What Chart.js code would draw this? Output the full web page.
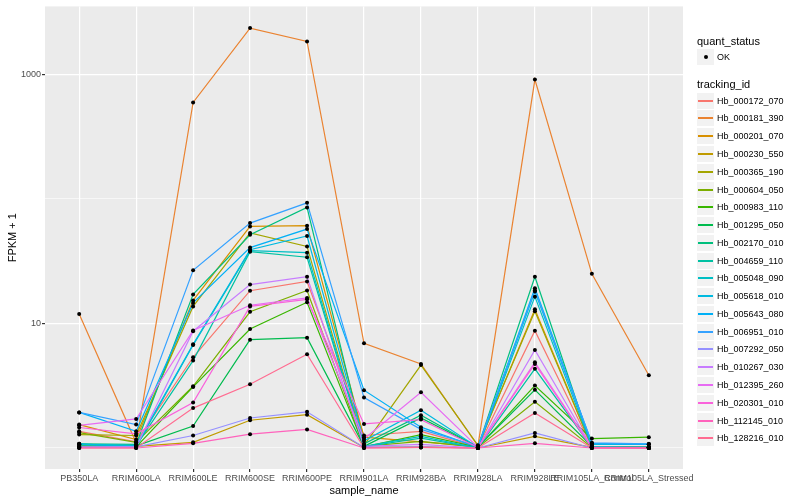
<!DOCTYPE html>
<html>
<head>
<meta charset="utf-8">
<script src="https://cdn.jsdelivr.net/npm/chart.js@4.4.1/dist/chart.umd.min.js"></script>
<style>
  body { margin: 0; background: #fff; font-family: "Liberation Sans", Arial, sans-serif; }
  #wrap { position: relative; width: 800px; height: 500px; }
  #legend { position: absolute; left: 0; top: 0; width: 800px; height: 500px; pointer-events: none; }
  .lt { position: absolute; font-size: 11px; line-height: 14px; color: #000; white-space: nowrap; }
  .li { position: absolute; font-size: 9px; line-height: 12px; color: #000; white-space: nowrap; }
  .key { position: absolute; width: 17px; height: 16px; background: #F2F2F2; }
  .key i { position: absolute; left: 1px; right: 1px; top: 7px; height: 2px; }
  .key b { position: absolute; left: 7px; top: 6px; width: 4px; height: 4px; border-radius: 2px; background: #000; }
</style>
</head>
<body>
<div id="wrap">
  <canvas id="chart" width="800" height="500"></canvas>
  <div id="legend"></div>
</div>
<script>
const samples = ['PB350LA', 'RRIM600LA', 'RRIM600LE', 'RRIM600SE', 'RRIM600PE', 'RRIM901LA',
  'RRIM928BA', 'RRIM928LA', 'RRIM928LE', 'RRIM105LA_Control', 'RRIM105LA_Stressed'];

const trackingIds = ['Hb_000172_070', 'Hb_000181_390', 'Hb_000201_070', 'Hb_000230_550', 'Hb_000365_190',
  'Hb_000604_050', 'Hb_000983_110', 'Hb_001295_050', 'Hb_002170_010', 'Hb_004659_110',
  'Hb_005048_090', 'Hb_005618_010', 'Hb_005643_080', 'Hb_006951_010', 'Hb_007292_050',
  'Hb_010267_030', 'Hb_012395_260', 'Hb_020301_010', 'Hb_112145_010', 'Hb_128216_010'];

const trackColors = ['#F8766D', '#EA8331', '#D89000', '#C09B00', '#A3A500', '#7CAE00', '#39B600',
  '#00BB4E', '#00BF7D', '#00C1A3', '#00BFC4', '#00BAE0', '#00B0F6', '#35A2FF', '#9590FF',
  '#C77CFF', '#E76BF3', '#FA62DB', '#FF62BC', '#FF6C91'];

// FPKM + 1, one array per tracking_id, in sample order
const hb_000172_070 = [1.36, 1.12, 5.35, 18.3, 21.7, 1.26, 1.36, 1.01, 8.74, 1.02, 1.01];
const hb_000181_390 = [11.9, 1.10, 594, 2350, 1837, 6.92, 4.73, 1.04, 907, 25.0, 3.84];
const hb_000201_070 = [1.54, 1.17, 15.3, 60.1, 60.9, 1.22, 1.12, 1.03, 13.0, 1.03, 1.01];
const hb_000230_550 = [1.02, 1.03, 1.11, 1.67, 1.85, 1.01, 1.02, 1.00, 1.24, 1.01, 1.00];
const hb_000365_190 = [1.28, 1.26, 13.7, 53.2, 41.5, 1.05, 4.63, 1.05, 12.5, 1.02, 1.01];
const hb_000604_050 = [1.33, 1.11, 3.13, 12.4, 18.4, 1.03, 1.13, 1.01, 2.35, 1.01, 1.01];
const hb_000983_110 = [1.03, 1.02, 3.09, 9.02, 14.8, 1.02, 1.28, 1.01, 3.17, 1.19, 1.22];
const hb_001295_050 = [1.04, 1.04, 1.50, 7.41, 7.68, 1.03, 1.74, 1.02, 2.93, 1.03, 1.02];
const hb_002170_010 = [1.08, 1.07, 17.1, 51.5, 85.3, 1.08, 1.83, 1.02, 23.7, 1.02, 1.02];
const hb_004659_110 = [1.07, 1.04, 5.03, 37.7, 34.0, 1.02, 1.20, 1.00, 4.32, 1.01, 1.01];
const hb_005048_090 = [1.08, 1.02, 6.70, 38.4, 37.0, 1.03, 1.24, 1.00, 16.4, 1.02, 1.00];
const hb_005618_010 = [1.07, 1.05, 6.79, 39.1, 50.3, 1.14, 2.01, 1.01, 18.0, 1.07, 1.07];
const hb_005643_080 = [1.93, 1.36, 14.6, 40.6, 57.2, 2.91, 1.47, 1.01, 19.2, 1.09, 1.07];
const hb_006951_010 = [1.93, 1.54, 26.7, 63.9, 92.9, 2.54, 1.41, 1.03, 18.5, 1.10, 1.08];
const hb_007292_050 = [1.01, 1.02, 1.26, 1.74, 1.95, 1.01, 1.02, 1.00, 1.32, 1.00, 1.00];
const hb_010267_030 = [1.02, 1.02, 8.66, 20.5, 23.7, 1.03, 1.07, 1.00, 6.12, 1.01, 1.01];
const hb_012395_260 = [1.52, 1.71, 8.79, 14.0, 16.0, 1.18, 2.80, 1.01, 4.88, 1.01, 1.00];
const hb_020301_010 = [1.46, 1.30, 2.32, 13.7, 15.6, 1.56, 1.69, 1.01, 4.73, 1.00, 1.00];
const hb_112145_010 = [1.00, 1.00, 1.09, 1.29, 1.41, 1.00, 1.01, 1.00, 1.09, 1.00, 1.00];
const hb_128216_010 = [1.00, 1.00, 2.09, 3.25, 5.65, 1.00, 1.01, 1.00, 1.91, 1.00, 1.00];

const seriesValues = [hb_000172_070, hb_000181_390, hb_000201_070, hb_000230_550, hb_000365_190,
  hb_000604_050, hb_000983_110, hb_001295_050, hb_002170_010, hb_004659_110,
  hb_005048_090, hb_005618_010, hb_005643_080, hb_006951_010, hb_007292_050,
  hb_010267_030, hb_012395_260, hb_020301_010, hb_112145_010, hb_128216_010];

const yTickLabels = [10, 1000];
const yMinorBreaks = [1, 100];

const panelBackground = {
  id: 'panelBackground',
  beforeDraw(chart) {
    const { ctx, chartArea: a } = chart;
    ctx.save();
    ctx.fillStyle = '#EBEBEB';
    ctx.fillRect(a.left, a.top, a.right - a.left, a.bottom - a.top);
    ctx.restore();
  }
};

Chart.defaults.font.family = '"Liberation Sans", Arial, sans-serif';

const lineSets = seriesValues.map((vals, i) => ({
  type: 'line',
  label: trackingIds[i],
  data: vals.map((v, j) => ({ x: j, y: v })),
  borderColor: trackColors[i],
  borderWidth: 1.2,
  pointRadius: 0,
  tension: 0,
  order: seriesValues.length - i
}));

const pointSet = {
  type: 'scatter',
  label: 'OK',
  data: seriesValues.flatMap(vals => vals.map((v, j) => ({ x: j, y: v }))),
  backgroundColor: '#000',
  borderWidth: 0,
  pointRadius: 2,
  order: 0
};

new Chart(document.getElementById('chart'), {
  type: 'line',
  data: { datasets: [pointSet, ...lineSets] },
  plugins: [panelBackground],
  options: {
    responsive: false,
    animation: false,
    layout: { padding: { top: 5, right: 117, bottom: 0, left: 0 } },
    plugins: { legend: { display: false }, tooltip: { enabled: false } },
    scales: {
      x: {
        type: 'linear',
        min: -0.6,
        max: samples.length - 0.4,
        afterBuildTicks: scale => { scale.ticks = samples.map((_, i) => ({ value: i })); },
        afterFit: scale => { scale.height = 31; },
        ticks: {
          autoSkip: false, maxRotation: 0, minRotation: 0, padding: 1,
          color: '#4D4D4D', font: { size: 9 },
          callback: v => samples[v]
        },
        grid: { color: '#FFFFFF', lineWidth: 1.2, tickLength: 3, tickColor: '#333333' },
        border: { display: false },
        title: { display: true, text: 'sample_name', color: '#000', font: { size: 11 }, padding: { top: 0, bottom: 2 } }
      },
      y: {
        type: 'logarithmic',
        min: 0.678,
        max: 3508,
        afterBuildTicks: scale => {
          scale.ticks = [...yMinorBreaks, ...yTickLabels].sort((a, b) => a - b).map(v => ({ value: v }));
        },
        afterFit: scale => { scale.width = 45; },
        ticks: {
          padding: 1, color: '#4D4D4D', font: { size: 9 },
          callback: v => yTickLabels.includes(v) ? String(v) : ''
        },
        grid: {
          color: '#FFFFFF',
          lineWidth: c => (c.tick && yTickLabels.includes(c.tick.value)) ? 1.2 : 0.6,
          tickLength: 3,
          tickColor: c => (c.tick && yTickLabels.includes(c.tick.value)) ? '#333333' : 'rgba(0,0,0,0)'
        },
        border: { display: false },
        title: { display: true, text: 'FPKM + 1', color: '#000', font: { size: 11 }, padding: { top: 6, bottom: 0 } }
      }
    }
  }
});

// ggplot-style legend on the right
const legend = document.getElementById('legend');
function addText(cls, text, x, yc, lh) {
  const d = document.createElement('div');
  d.className = cls;
  d.textContent = text;
  d.style.left = x + 'px';
  d.style.top = Math.round(yc - lh / 2) + 'px';
  legend.appendChild(d);
}
function addKey(yc, color) {
  const k = document.createElement('div');
  k.className = 'key';
  k.style.left = '697px';
  k.style.top = Math.round(yc - 8) + 'px';
  const m = document.createElement(color ? 'i' : 'b');
  if (color) m.style.background = color;
  k.appendChild(m);
  legend.appendChild(k);
}
addText('lt', 'quant_status', 697, 40.7, 14);
addKey(56.7, null);
addText('li', 'OK', 717, 56.7, 12);
addText('lt', 'tracking_id', 697, 84.3, 14);
trackingIds.forEach((id, i) => {
  const yc = 100.7 + i * 17.77;
  addKey(yc, trackColors[i]);
  addText('li', id, 717, yc, 12);
});
</script>
</body>
</html>
